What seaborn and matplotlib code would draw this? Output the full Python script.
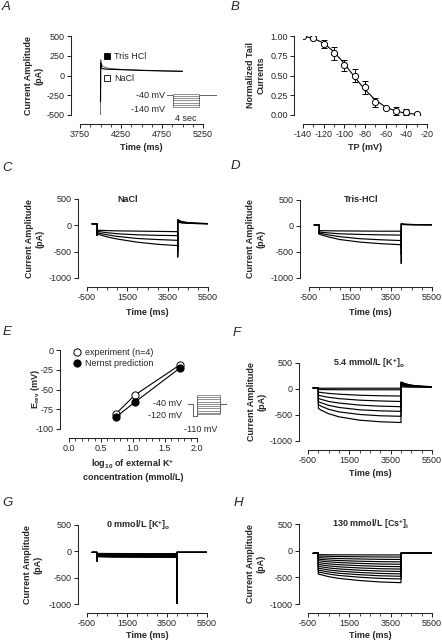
import pandas as pd
import seaborn as sns
import matplotlib.pyplot as plt
from matplotlib.lines import Line2D
from matplotlib.ticker import MultipleLocator

# --- A: tail currents after the step ---
a_t = [4000, 4003, 4010, 4030, 4080, 4150, 4300, 4500, 4750, 5000]
a_tris = [-330, 160, 100, 85, 80, 78, 72, 65, 58, 52]
a_nacl = [-500, 200, 150, 115, 95, 85, 75, 66, 60, 55]
a_prot_levels = [-30, -48, -67, -85, -103, -122, -140]

# --- B: normalized tail currents ---
b_tp = [-140, -130, -120, -110, -100, -90, -80, -70, -60, -50, -40, -30]
b_norm = [1.00, 0.98, 0.90, 0.78, 0.63, 0.50, 0.35, 0.16, 0.09, 0.05, 0.04, 0.01]
b_err = [0.0, 0.02, 0.05, 0.08, 0.07, 0.08, 0.08, 0.06, 0.01, 0.05, 0.04, 0.0]
b_fit = [1.00, 0.97, 0.91, 0.80, 0.65, 0.48, 0.32, 0.19, 0.10, 0.05, 0.02, 0.01]

# --- shared time points for the step traces (ms) ---
hold_t = [-250, 0]
step_t = [0, 100, 500, 1000, 2000, 3000, 4000]
tail_t = [4000, 4050, 4200, 4500, 5000, 5500]

# --- C: NaCl ---
c_hold = 27
c_onset = [-190, -190, -190, -190]
c_steps = [[-90, -95, -100, -105, -110, -115, -120],
           [-110, -120, -140, -160, -180, -190, -195],
           [-130, -150, -180, -210, -250, -270, -285],
           [-150, -175, -220, -260, -320, -360, -385]]
c_spike = [-300, -400, -500, -600]
c_tail = [[60, 55, 45, 38, 32, 30],
          [80, 70, 55, 42, 35, 30],
          [100, 85, 65, 48, 38, 32],
          [110, 95, 72, 52, 40, 33]]

# --- D: Tris-HCl ---
d_hold = 20
d_onset = [-150, -150, -150, -150]
d_steps = [[-90, -90, -92, -95, -97, -100, -100],
           [-110, -120, -135, -150, -162, -170, -175],
           [-130, -145, -175, -205, -245, -265, -280],
           [-150, -170, -215, -260, -310, -340, -360]]
d_spike = [-300, -400, -550, -720]
d_tail = [[30, 28, 26, 25, 24, 24],
          [35, 32, 29, 27, 25, 24],
          [40, 36, 31, 28, 26, 25],
          [45, 40, 33, 29, 26, 25]]

# --- F: 5.4 mmol/L [K+]o ---
f_hold = 20
f_onset = [15, -10, -60, -120, -180, -240, -300, -370]
f_steps = [[15, 15, 15, 15, 15, 15, 15],
           [-10, -10, -12, -14, -15, -15, -15],
           [-60, -65, -85, -100, -120, -130, -135],
           [-120, -130, -160, -185, -215, -230, -240],
           [-180, -195, -240, -270, -310, -330, -340],
           [-240, -260, -315, -355, -400, -420, -430],
           [-300, -325, -390, -440, -490, -515, -525],
           [-370, -400, -475, -535, -600, -630, -645]]
f_spike = [15, -15, -135, -240, -340, -430, -525, -645]
f_tail = [[40, 40, 38, 36, 35, 35],
          [60, 58, 52, 45, 40, 38],
          [80, 76, 65, 52, 43, 40],
          [95, 90, 75, 58, 46, 42],
          [110, 104, 85, 63, 48, 43],
          [120, 114, 92, 67, 50, 44],
          [128, 121, 97, 70, 51, 45],
          [135, 128, 102, 73, 52, 45]]

# --- G: 0 mmol/L [K+]o ---
g_hold = -20
g_onset = [-190, -55, -62, -70, -78, -85, -92, -100]
g_steps = [[-40, -40, -41, -42, -43, -43, -43],
           [-52, -53, -54, -55, -56, -57, -57],
           [-62, -64, -66, -67, -68, -69, -70],
           [-70, -72, -74, -76, -77, -78, -78],
           [-78, -80, -83, -85, -86, -87, -88],
           [-85, -88, -91, -93, -95, -96, -96],
           [-92, -95, -99, -102, -104, -105, -105],
           [-100, -104, -108, -111, -113, -114, -115]]
g_spike = [-43, -57, -70, -78, -88, -96, -105, -1000]
g_tail = [[-20, -20, -20, -20, -20, -20]] * 8

# --- H: 130 mmol/L [Cs+]i ---
h_hold = -50
h_steps = [[-75, -75, -77, -78, -79, -80, -80],
           [-100, -101, -106, -110, -115, -118, -120],
           [-130, -132, -141, -148, -156, -162, -165],
           [-160, -163, -175, -185, -198, -206, -210],
           [-190, -193, -210, -223, -239, -250, -255],
           [-225, -229, -248, -263, -281, -294, -300],
           [-260, -264, -286, -303, -324, -338, -345],
           [-295, -300, -324, -343, -366, -382, -390],
           [-330, -335, -362, -383, -409, -427, -435],
           [-365, -371, -400, -423, -451, -471, -480],
           [-400, -407, -439, -465, -498, -520, -530],
           [-440, -448, -488, -520, -560, -587, -600]]
h_onset = [s[0] for s in h_steps]
h_spike = [s[-1] for s in h_steps]
h_tail = [[-50, -50, -50, -50, -50, -50]] * 12

# --- E: reversal potential ---
e_logk = [0.73, 1.03, 1.73]
e_exp = [-81, -57, -19]
e_nernst = [-85, -66, -23]
e_prot_levels = [20, 5, -10, -25, -40, -55, -70, -85, -100, -110]


def build_traces(hold, onset, steps, spike, tail):
    rows = []
    for k in range(len(steps)):
        tt = hold_t + [0] + step_t + [4000] + tail_t
        yy = [hold, hold, onset[k]] + steps[k] + [spike[k]] + tail[k]
        rows += [(k, a, b) for a, b in zip(tt, yy)]
    return pd.DataFrame(rows, columns=['trace', 't', 'I'])


sns.set_style('ticks')
plt.rcParams['font.family'] = ['Liberation Sans', 'DejaVu Sans']
plt.rcParams['mathtext.fontset'] = 'custom'
plt.rcParams['mathtext.rm'] = 'Liberation Sans'
plt.rcParams['mathtext.bf'] = 'Liberation Sans:bold'
plt.rcParams['mathtext.it'] = 'Liberation Sans:italic'
plt.rcParams['axes.linewidth'] = 0.75
plt.rcParams['axes.unicode_minus'] = False

W, H = 442, 642
FS = 6.5
fig = plt.figure(figsize=(W / 100, H / 100), dpi=100)


def px_axes(x0, x1, y0, y1):
    return fig.add_axes([x0 / W, 1 - y1 / H, (x1 - x0) / W, (y1 - y0) / H])


def style(ax, xlabel, ylabel, xlab_y, ylab_x, offset=6.5):
    sns.despine(ax=ax, offset=offset)
    ax.tick_params(labelsize=FS, length=3, width=0.75, pad=1.5)
    ax.tick_params(which='minor', length=1.8, width=0.6)
    ax.set_xlabel(xlabel, fontsize=FS, fontweight='bold', linespacing=1.25)
    ax.set_ylabel(ylabel, fontsize=FS, fontweight='bold', linespacing=1.25)
    bb = ax.get_position()
    ax.xaxis.set_label_coords((bb.x0 + bb.x1) / 2, 1 - xlab_y / H, transform=fig.transFigure)
    ax.yaxis.set_label_coords(ylab_x / W, (bb.y0 + bb.y1) / 2, transform=fig.transFigure)
    ax.xaxis.label.set_va('center')
    ax.yaxis.label.set_va('center')


def trace_panel(ax, df):
    sns.lineplot(data=df, x='t', y='I', units='trace', estimator=None, sort=False,
                 color='k', lw=0.85, ax=ax, legend=False)
    ax.set_xlim(-500, 5500)
    ax.set_ylim(-1000, 500)
    ax.set_xticks([-500, 1500, 3500, 5500])
    ax.set_yticks([-1000, -500, 0, 500])
    ax.xaxis.set_minor_locator(MultipleLocator(500))


def ptitle(text, x, y):
    fig.text(x / W, 1 - y / H, text, ha='center', va='center', fontsize=FS, fontweight='bold')


amp_label = 'Current Amplitude\n(pA)'

# A
ax = px_axes(80, 203, 36, 115)
sns.lineplot(x=a_t, y=a_nacl, sort=False, estimator=None, color='0.35', lw=0.6, ax=ax)
sns.lineplot(x=a_t, y=a_tris, sort=False, estimator=None, color='k', lw=0.85, ax=ax)
ax.set_xlim(3750, 5250)
ax.set_ylim(-500, 500)
ax.set_xticks([3750, 4250, 4750, 5250])
ax.set_yticks([-500, -250, 0, 250, 500])
ax.xaxis.set_minor_locator(MultipleLocator(125))
style(ax, 'Time (ms)', amp_label, 147, 34)
handles = [Line2D([], [], ls='', marker='s', ms=3.8, mfc='k', mec='k', mew=0.6),
           Line2D([], [], ls='', marker='s', ms=3.8, mfc='white', mec='k', mew=0.6)]
ax.legend(handles, ['Tris HCl', 'NaCl'], loc='upper left', bbox_to_anchor=(103 / W, 1 - 52 / H),
          bbox_transform=fig.transFigure, frameon=False, fontsize=FS, handlelength=0.8,
          handletextpad=0.4, labelspacing=1.45, borderpad=0, borderaxespad=0)

# A protocol inset
ins = fig.add_axes([167 / W, 1 - 110 / H, 50 / W, 20 / H])
for lv in a_prot_levels:
    sns.lineplot(x=[-1000, 0, 0, 4000, 4000, 6800], y=[-40, -40, lv, lv, -40, -40],
                 sort=False, estimator=None, color='0.4', lw=0.5, ax=ins)
ins.set_xlim(-1000, 6800)
ins.set_ylim(-165, 1.7)
ins.axis('off')
ins.text(-1300, -40, '-40 mV', ha='right', va='center', fontsize=FS)
ins.text(-1300, -165, '-140 mV', ha='right', va='center', fontsize=FS)
ins.text(2000, -240, '4 sec', ha='center', va='center', fontsize=FS)

# B
ax = px_axes(303, 427, 36, 115)
ax.errorbar(b_tp, b_norm, yerr=b_err, fmt='none', ecolor='k', elinewidth=0.7,
            capsize=2.2, capthick=0.7, zorder=2)
sns.lineplot(x=b_tp, y=b_fit, color='k', lw=0.8, ax=ax, zorder=1)
sns.scatterplot(x=b_tp, y=b_norm, marker='o', s=20, color='white', edgecolor='k',
                linewidth=0.7, ax=ax, zorder=3)
ax.set_xlim(-140, -20)
ax.set_ylim(0, 1)
ax.set_xticks([-140, -120, -100, -80, -60, -40, -20])
ax.set_yticks([0, 0.25, 0.5, 0.75, 1.0])
ax.set_yticklabels(['0.00', '0.25', '0.50', '0.75', '1.00'])
ax.xaxis.set_minor_locator(MultipleLocator(10))
style(ax, 'TP (mV)', 'Normalized Tail\nCurrents', 148, 256)

# C
ax = px_axes(87, 208, 199, 278)
trace_panel(ax, build_traces(c_hold, c_onset, c_steps, c_spike, c_tail))
style(ax, 'Time (ms)', amp_label, 312, 35)
ptitle('NaCl', 128, 200)

# D
ax = px_axes(309, 432, 200, 278)
trace_panel(ax, build_traces(d_hold, d_onset, d_steps, d_spike, d_tail))
style(ax, 'Time (ms)', amp_label, 312, 256)
ptitle('Tris-HCl', 361, 200)

# E
ax = px_axes(69, 197, 350, 429)
sns.lineplot(x=e_logk, y=e_exp, color='k', lw=0.8, marker='o', markersize=5.2,
             markerfacecolor='white', markeredgecolor='k', markeredgewidth=0.7, ax=ax)
sns.lineplot(x=e_logk, y=e_nernst, color='k', lw=0.8, marker='o', markersize=5.2,
             markerfacecolor='k', markeredgecolor='k', markeredgewidth=0.7, ax=ax)
ax.set_xlim(0, 2)
ax.set_ylim(-100, 0)
ax.set_xticks([0, 0.5, 1.0, 1.5, 2.0])
ax.set_xticklabels(['0.0', '0.5', '1.0', '1.5', '2.0'])
ax.set_yticks([-100, -75, -50, -25, 0])
ax.xaxis.set_minor_locator(MultipleLocator(0.1))
style(ax, r'log$_\mathbf{10}$ of external K$^\mathbf{+}$' + '\nconcentration (mmol/L)',
      r'E$_\mathbf{rev}$ (mV)', 470, 35)
handles = [Line2D([], [], ls='', marker='o', ms=5.2, mfc='white', mec='k', mew=0.7),
           Line2D([], [], ls='', marker='o', ms=5.2, mfc='k', mec='k', mew=0.7)]
ax.legend(handles, ['experiment (n=4)', 'Nernst prediction'], loc='upper left',
          bbox_to_anchor=(73 / W, 1 - 348 / H), bbox_transform=fig.transFigure, frameon=False,
          fontsize=FS, handlelength=0.9, handletextpad=0.4, labelspacing=0.2,
          borderpad=0, borderaxespad=0)

# E protocol inset
ins = fig.add_axes([188 / W, 1 - 420 / H, 39 / W, 30 / H])
for lv in e_prot_levels:
    sns.lineplot(x=[-1570, -700, -700, 0, 0, 4000, 4000, 5200],
                 y=[-40, -40, -120, -120, lv, lv, -40, -40],
                 sort=False, estimator=None, color='0.4', lw=0.5, ax=ins)
ins.set_xlim(-1570, 5200)
ins.set_ylim(-147, 53)
ins.axis('off')
ins.text(-2600, -40, '-40 mV', ha='right', va='center', fontsize=FS)
ins.text(-2600, -120, '-120 mV', ha='right', va='center', fontsize=FS)
ins.text(700, -213, '-110 mV', ha='center', va='center', fontsize=FS)

# F
ax = px_axes(308, 432, 363, 441)
trace_panel(ax, build_traces(f_hold, f_onset, f_steps, f_spike, f_tail))
style(ax, 'Time (ms)', amp_label, 473, 257)
ptitle(r'5.4 mmol/L [K$^\mathbf{+}$]$_\mathbf{o}$', 369, 363)

# G
ax = px_axes(87, 207, 525, 604)
trace_panel(ax, build_traces(g_hold, g_onset, g_steps, g_spike, g_tail))
style(ax, 'Time (ms)', amp_label, 635, 33)
ptitle(r'0 mmol/L [K$^\mathbf{+}$]$_\mathbf{o}$', 138, 525)

# H
ax = px_axes(308, 432, 524, 604)
trace_panel(ax, build_traces(h_hold, h_onset, h_steps, h_spike, h_tail))
style(ax, 'Time (ms)', amp_label, 635, 256)
ptitle(r'130 mmol/L [Cs$^\mathbf{+}$]$_\mathbf{i}$', 371, 524)

# panel letters
for letter, x, y in [('A', 6, 7), ('B', 235, 7), ('C', 7, 168), ('D', 235, 166),
                     ('E', 7, 332), ('F', 237, 333), ('G', 7, 503), ('H', 238, 503)]:
    fig.text(x / W, 1 - y / H, letter, ha='center', va='center', fontsize=9.5, style='italic')

fig.savefig('out.png', dpi=100)
